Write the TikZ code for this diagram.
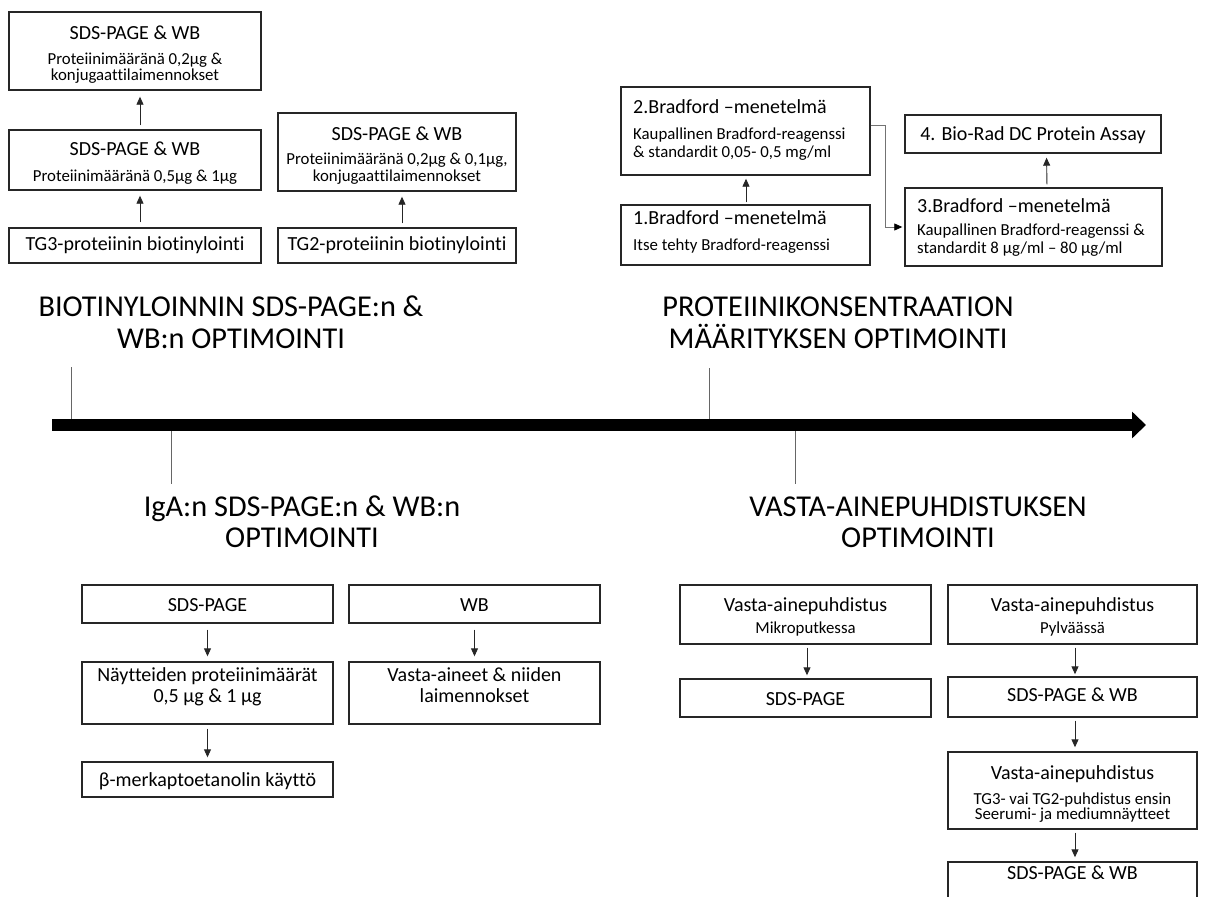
\documentclass[tikz,border=0pt]{standalone}
\usepackage{fontspec}
\setmainfont[Ligatures={NoCommon}]{Carlito}
\usetikzlibrary{arrows.meta}
\newcommand\mfont{\fontsize{20bp}{24bp}\selectfont}
\newcommand\subfont{\fontsize{16.8bp}{18bp}\selectfont}
\newcommand\hfont{\fontsize{30.3bp}{32bp}\selectfont}
\begin{document}
\begin{tikzpicture}[x=1bp,y=-1bp,
  box/.style={draw=black!85, line width=1.4bp, inner sep=0pt},
  tm/.style={inner sep=0pt, anchor=base, font=\mfont},
  ts/.style={inner sep=0pt, anchor=base, font=\subfont},
  tml/.style={inner sep=0pt, anchor=base west, font=\mfont},
  tsl/.style={inner sep=0pt, anchor=base west, font=\subfont},
  th/.style={inner sep=0pt, anchor=base, font=\hfont},
  arr/.style={draw=black!85, line width=0.9bp, -{Triangle[length=8bp,width=7bp]}},
  garr/.style={draw=black!55, line width=0.8bp, -{Triangle[length=8bp,width=7bp,fill=black,color=black]}},
  tick/.style={draw=black!60, line width=0.8bp}]
\useasboundingbox (0,0) rectangle (1205,897);

% ---------- top left ----------
\node[box, minimum width=252bp, minimum height=78bp] (A) at (135,51) {};
\node[tm] (a1) at (135,39) {SDS-PAGE \& WB};
\node[ts] (a2) at (135,64) {Proteiinimääränä 0,2µg \&};
\node[ts] (a3) at (135,80) {konjugaattilaimennokset};

\node[box, minimum width=252bp, minimum height=60bp] (B) at (135,160) {};
\node[tm] (b1) at (135,155) {SDS-PAGE \& WB};
\node[ts] (b2) at (135,181) {Proteiinimääränä 0,5µg \& 1µg};

\node[box, minimum width=252bp, minimum height=35bp] (C) at (135,245.5) {};
\node[tm] (c1) at (135,250) {TG3-proteiinin biotinylointi};

\node[box, minimum width=238bp, minimum height=78bp] (D) at (397,152) {};
\node[tm] (d1) at (397,140) {SDS-PAGE \& WB};
\node[ts] (d2) at (397,164.5) {Proteiinimääränä 0,2µg \& 0,1µg,};
\node[ts] (d3) at (397,181) {konjugaattilaimennokset};

\node[box, minimum width=238bp, minimum height=35bp] (E) at (397,245.5) {};
\node[tm] (e1) at (397,250) {TG2-proteiinin biotinylointi};

\draw[arr, shorten <=4bp, shorten >=6bp] ([xshift=5bp]B.north) -- ([xshift=5bp]A.south);
\draw[arr, shorten <=5bp, shorten >=5bp] ([xshift=5bp]C.north) -- ([xshift=5bp]B.south);
\draw[arr, shorten <=4bp, shorten >=5bp] ([xshift=5bp]E.north) -- ([xshift=5bp]D.south);

% ---------- top right ----------
\node[box, minimum width=249bp, minimum height=88bp] (Br2) at (745.5,131) {};
\node[tml] (br2a) at (633,113) {2.Bradford –menetelmä};
\node[tsl] (br2b) at (633,139) {Kaupallinen Bradford-reagenssi};
\node[tsl] (br2c) at (633,157) {\& standardit 0,05- 0,5 mg/ml};

\node[box, minimum width=249bp, minimum height=60bp] (Br1) at (745.5,235) {};
\node[tml] (br1a) at (633,224) {1.Bradford –menetelmä};
\node[tsl] (br1b) at (633,250.5) {Itse tehty Bradford-reagenssi};

\node[box, minimum width=256bp, minimum height=38bp] (Br4) at (1033,134) {};
\node[tm] (br4a) at (1033,140.5) {4. Bio-Rad DC Protein Assay};

\node[box, minimum width=257bp, minimum height=78bp] (Br3) at (1033.5,227) {};
\node[tml] (br3a) at (917,212.5) {3.Bradford –menetelmä};
\node[tsl] (br3b) at (917,235) {Kaupallinen Bradford-reagenssi \&};
\node[tsl] (br3c) at (917,253) {standardit 8 µg/ml – 80 µg/ml};

\draw[arr, shorten <=2bp, shorten >=3bp] ([xshift=0.5bp]Br1.north) -- ([xshift=0.5bp]Br2.south);
\draw[garr, shorten >=2bp] ([yshift=6bp]Br2.east) -- ++(15,0) |- (Br3.west);
\draw[arr, shorten <=3bp, shorten >=4bp] ([xshift=13.5bp]Br3.north) -- ([xshift=13.5bp]Br4.south);

% ---------- headings ----------
\node[th] (h1a) at (231,316) {BIOTINYLOINNIN SDS-PAGE:n \&};
\node[th] (h1b) at (231,348) {WB:n OPTIMOINTI};
\node[th] (h2a) at (838,316) {PROTEIINIKONSENTRAATION};
\node[th] (h2b) at (838,348) {MÄÄRITYKSEN OPTIMOINTI};
\node[th] (h3a) at (302,516) {IgA:n SDS-PAGE:n \& WB:n};
\node[th] (h3b) at (302,547) {OPTIMOINTI};
\node[th] (h4a) at (918,516) {VASTA-AINEPUHDISTUKSEN};
\node[th] (h4b) at (918,547) {OPTIMOINTI};

% ---------- timeline ----------
\coordinate (tl0) at (52,425);
\coordinate (tl1) at (1146,425);
\draw[line width=12bp, -{Triangle[length=14bp,width=26bp]}] (tl0) -- (tl1);
\draw[tick] (71,367) -- (71,419);
\draw[tick] (709,368) -- (709,419);
\draw[tick] (171,431) -- (171,484);
\draw[tick] (795,431) -- (795,484);

% ---------- bottom left ----------
\node[box, minimum width=251bp, minimum height=38bp] (S1) at (207.5,604) {};
\node[tm] (s1a) at (207.5,611) {SDS-PAGE};
\node[box, minimum width=251bp, minimum height=62bp] (S2) at (207.5,693) {};
\node[tm] (s2a) at (207.5,681) {Näytteiden proteiinimäärät};
\node[tm] (s2b) at (207.5,702) {0,5 µg \& 1 µg};
\node[box, minimum width=251bp, minimum height=35bp] (S3) at (207.5,779.5) {};
\node[tm] (s3a) at (207.5,786) {β-merkaptoetanolin käyttö};

\node[box, minimum width=251bp, minimum height=38bp] (W1) at (474.5,604) {};
\node[tm] (w1a) at (474.5,611) {WB};
\node[box, minimum width=251bp, minimum height=62bp] (W2) at (474.5,693) {};
\node[tm] (w2a) at (474.5,681) {Vasta-aineet \& niiden};
\node[tm] (w2b) at (474.5,702) {laimennokset};

\draw[arr, shorten <=6bp, shorten >=5bp] (S1.south) -- (S2.north);
\draw[arr, shorten <=4bp, shorten >=4bp] (S2.south) -- (S3.north);
\draw[arr, shorten <=6bp, shorten >=5bp] (W1.south) -- (W2.north);

% ---------- bottom right ----------
\node[box, minimum width=251bp, minimum height=59bp] (V1) at (805.5,614.5) {};
\node[tm] (v1a) at (805.5,611) {Vasta-ainepuhdistus};
\node[ts] (v1b) at (805.5,633) {Mikroputkessa};
\node[box, minimum width=251bp, minimum height=38bp] (V2) at (805.5,698) {};
\node[tm] (v2a) at (805.5,705) {SDS-PAGE};

\node[box, minimum width=249bp, minimum height=59bp] (R1) at (1072.5,614.5) {};
\node[tm] (r1a) at (1072.5,611) {Vasta-ainepuhdistus};
\node[ts] (r1b) at (1072.5,633) {Pylväässä};
\node[box, minimum width=249bp, minimum height=40bp] (R2) at (1072.5,697) {};
\node[tm] (r2a) at (1072.5,701) {SDS-PAGE \& WB};
\node[box, minimum width=249bp, minimum height=77bp] (R3) at (1072.5,790.5) {};
\node[tm] (r3a) at (1072.5,779) {Vasta-ainepuhdistus};
\node[ts] (r3b) at (1072.5,804) {TG3- vai TG2-puhdistus ensin};
\node[ts] (r3c) at (1072.5,819) {Seerumi- ja mediumnäytteet};
\node[box, minimum width=249bp, minimum height=60bp] (R4) at (1072.5,892) {};
\node[tm] (r4a) at (1072.5,879.5) {SDS-PAGE \& WB};

\draw[arr, shorten <=3bp, shorten >=3bp] ([xshift=1.5bp]V1.south) -- ([xshift=1.5bp]V2.north);
\draw[arr, shorten <=3bp, shorten >=2bp] ([xshift=2.5bp]R1.south) -- ([xshift=2.5bp]R2.north);
\draw[arr, shorten <=3bp, shorten >=4bp] ([xshift=2.5bp]R2.south) -- ([xshift=2.5bp]R3.north);
\draw[arr, shorten <=3bp, shorten >=4bp] ([xshift=2.5bp]R3.south) -- ([xshift=2.5bp]R4.north);
\end{tikzpicture}
\end{document}
